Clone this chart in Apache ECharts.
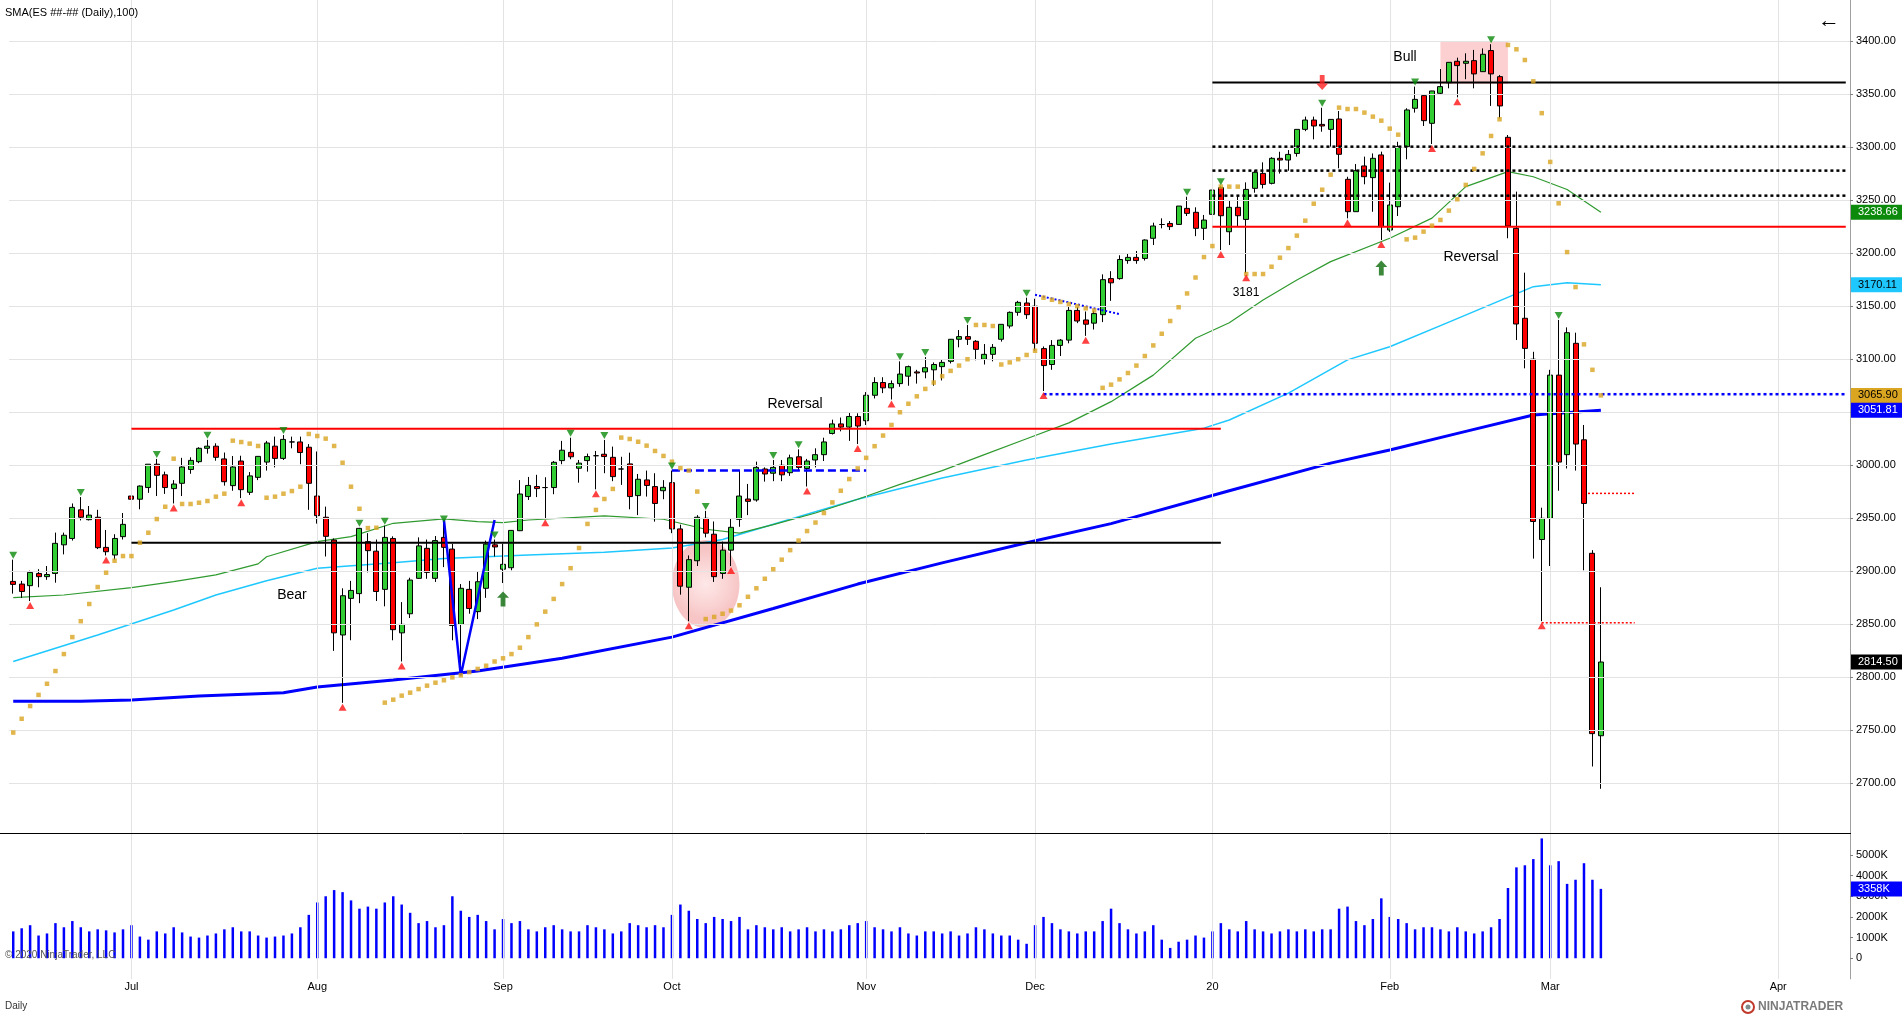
<!DOCTYPE html>
<html><head><meta charset="utf-8">
<script src="https://cdn.jsdelivr.net/npm/echarts@6/dist/echarts.min.js"></script>
<style>html,body{margin:0;padding:0;background:#fff;overflow:hidden}#c{width:1902px;height:1016px}</style>
</head><body><div id="c"></div><script>
// ---------- DATA ----------
const holidays = ['2019-07-04','2019-09-02','2019-11-28','2019-12-25','2020-01-01','2020-01-20','2020-02-17'];
const barCount = 189, slotCount = 218;
// [open, high, low, close]
const candles = [
[2890.5,2911,2879,2887.7],[2888,2891,2875,2881],[2886.5,2900.6,2872,2899],[2898,2902,2885,2895],[2895,2905,2892,2897],
[2898,2936.5,2889.3,2926.4],[2925,2936.5,2916,2934],[2931,2964,2929,2960.3],[2958,2970,2948,2951],[2948.7,2961.6,2948,2953],
[2951,2958,2921,2922.3],[2922.6,2939,2915,2918.5],[2915.4,2935,2911,2931],[2932.7,2955,2930,2944.3],
[2971,2981,2955,2968],[2968,2981,2958.5,2980.4],[2979,3001,2974,3001],[3001,3006,2971,2990.5],[2991,2994,2973,2979],
[2978,2986,2964,2982.3],[2983,3007,2971,2998.4],[2996,3007.5,2992,3004.6],[3003.4,3017,3002,3016],[3016,3024,3011,3018],
[3018,3020.7,3004.3,3007.5],[3006,3012,2980.8,2984.5],[2980.8,3008.7,2976,2998.4],[3004,3009,2969,2977],[2974.5,2993.6,2972,2990],
[2988.6,3008.4,2986,3008.4],[3003,3023,2995,3021],[3018,3027,2998,3006.5],[3006.5,3028.5,3005,3024.4],[3022,3027,3016,3022],
[3022,3027,3001,3012],[3017,3020,2958,2983],
[2971,3013,2945,2952.5],[2951,2961,2914,2933],[2929.5,2931,2825,2842],[2840,2884,2776,2877],[2874.5,2891,2835,2882],
[2879,2941,2870,2940.5],[2928,2936,2899,2919.5],[2919,2930,2872,2881],[2883,2943,2867,2932],[2931,2933,2835,2845],
[2842,2871,2815,2850],[2860,2894,2856,2891.8],[2893.4,2932,2893,2924],[2921.7,2930,2893,2899],[2893.4,2933.3,2890,2929],
[2932,2945,2904,2922.6],[2921,2926,2835,2849],[2850,2888,2802,2884],[2883,2891,2860,2865],[2862,2900,2855,2890.2],
[2884,2929,2875,2925.7],[2925,2930,2914,2923],
[2902,2926,2889,2906.6],[2903.4,2939,2901,2938.6],[2938.3,2986,2938,2972.9],[2970.5,2989,2967.3,2981],[2980,2991,2970,2978],
[2979,2988.7,2950,2979],[2979,3004,2972.7,3002.8],[3004.4,3023,3001,3014.2],[3012.2,3026,3005.7,3008],[2997.2,3005,2983.6,3002],
[3004.4,3011,2994,3008.2],[3009,3013.5,2977.3,3009],[3010.4,3023.9,2992.5,3008.2],[3007.5,3017.6,2985,2989.3],[2996.5,3008,2981.5,2996.5],
[3001.3,3011.9,2958.5,2970.5],[2971.4,2991.8,2953,2986.8],[2986.2,2995,2970.5,2981],[2979.9,2992.5,2946.9,2964],[2976,2986,2968,2979.2],
[2983.6,2995,2936,2940],[2940,2944,2878,2886],[2885,2915,2853,2911],[2910,2953,2905,2951],[2950,2957,2932,2936],
[2935,2947,2890,2895],[2898,2928,2893,2920],[2920,2950,2905,2941.5],[2949,2995,2942,2971],[2968.2,2982.4,2953,2966],
[2967.3,3003.4,2965.7,2998],[2996.5,2998,2984.6,2991.8],[2992.5,3005,2985,2998],[3000,3005,2985,2991],[2993,3010,2990,3007],
[3008,3015,2995,2998],[2997,3006,2980,3004],[3005,3016,2998,3010],[3010,3026,3004,3022],[3030,3043,3029,3039],
[3039,3045,3032,3036],[3036,3050,3023,3046],[3046,3049,3020,3037],
[3042,3069,3038,3066],[3066,3083,3063,3078],[3078,3083,3068,3073],[3073,3080,3062,3077],[3077,3098,3074,3086],
[3084,3094,3075,3093],[3088,3090,3077,3087],[3088,3102,3082,3092],[3090,3097,3075,3095],[3093,3100,3080,3097],
[3098,3119,3096,3118.8],[3118.8,3127.5,3111.2,3121.3],[3121.3,3132.3,3113.4,3118.8],[3116.9,3118,3099,3109.3],[3100,3114.3,3095,3104.6],
[3104.6,3114.3,3098,3111.2],[3118.8,3132.9,3116.6,3132.9],[3131.3,3145,3129,3144.2],[3144.2,3155,3141,3153.6],[3153,3158,3138,3142],
[3150,3157,3108,3115],[3110,3112,3070,3094],[3095,3118,3090,3113],[3113,3119,3103,3118],[3118,3150,3115,3146],
[3146,3150,3134,3136],[3137,3145,3122,3133],[3134,3146,3128,3143],[3142,3180,3135,3175],[3176,3183,3155,3172],
[3176,3198,3175,3194],[3193,3200,3190,3196],[3196,3202,3190,3193],[3195,3213,3193,3212.4],[3214,3228.7,3207.7,3225.6],
[3227,3232.8,3223.4,3227],[3228,3230.3,3221.8,3225],[3227.1,3244.4,3227,3244.4],[3242.2,3253.2,3235,3237.5],[3238.5,3243.2,3216,3223.4],
[3223.4,3236,3212.4,3231.2],
[3236.6,3261,3233.4,3259.5],[3261.7,3263,3203,3235.3],[3220.2,3249.1,3207.7,3243.2],[3243.2,3253.9,3225,3235.3],[3231.8,3266.7,3181,3260.1],
[3261.1,3278,3257,3276.2],[3275.2,3285.6,3261,3264.8],[3265.8,3290.5,3264.8,3289.4],[3289.4,3295.6,3275,3287.8],[3287.8,3297.2,3277.7,3293.1],
[3294,3316.7,3291,3316.7],[3316.7,3328.7,3315,3325.5],[3325.5,3328.7,3307.3,3319.9],[3321.4,3337.1,3314.5,3319.9],[3316.7,3326.2,3300.4,3326.1],
[3326.5,3334,3280,3293.2],[3269.6,3272,3232.8,3239.1],[3239.1,3284,3239,3277.8],[3282.2,3291,3264.9,3272.1],[3271.2,3294,3239,3289.4],
[3292.6,3295.7,3212.4,3225],
[3221.8,3266.5,3220,3245.4],[3243.8,3305,3235,3300.4],[3300.4,3336.6,3288.5,3335],[3336.6,3357,3332.5,3345],[3348.5,3349,3319.9,3324.9],
[3322.4,3353,3302.9,3352.9],[3350.7,3373.6,3350,3357],[3360.7,3380,3355.4,3379.9],[3380.9,3384.3,3346.9,3376.8],[3379,3388.4,3364,3380.9],
[3381.5,3391.6,3355.4,3369],[3371.1,3393,3371,3387.5],[3391,3397,3338.8,3369],[3366.4,3368,3327,3338.8],[3309.2,3311.4,3214,3225.6],
[3223.4,3258,3118.1,3133.2],[3138.6,3181.6,3091.4,3110.2],[3100,3107,2912,2947],[2930,2960,2853,2950],
[2950,3090,2905,3085],[3085,3137,2976,3003],[3010,3130,2997,3125],[3115,3125,2995,3020],[3024,3038,2901,2964],
[2917,2920,2716,2747],[2745,2885,2695,2814.5]
];
const volumeK = [
1300,1450,1600,1100,1200,1700,1500,1800,1500,1300,1400,1350,1250,1400,
1600,1050,900,1300,1200,1500,1250,1050,1000,1100,1200,1400,1500,1300,1300,1100,1000,1050,1100,1200,1500,2100,
2700,3000,3300,3200,2800,2400,2500,2400,2700,3000,2600,2200,1700,1800,1500,1600,3000,2300,2000,2100,1800,1400,
1900,1700,1800,1400,1300,1500,1600,1400,1300,1300,1600,1500,1400,1200,1300,1700,1600,1500,1600,1500,
2100,2600,2300,1900,1700,2000,1900,1800,2000,1400,1600,1500,1400,1500,1300,1400,1500,1300,1400,1300,1400,1600,1700,
1800,1500,1400,1300,1500,1200,1100,1300,1300,1200,1300,1100,1200,1500,1400,1200,1100,1100,900,700,
1600,2000,1700,1400,1300,1200,1300,1300,1800,2400,1700,1400,1200,1300,1600,900,500,800,900,1100,1000,
1300,1700,1400,1300,1800,1400,1300,1200,1300,1400,1300,1400,1300,1400,1400,2400,2500,1800,1600,1900,2900,
2000,1900,1700,1400,1500,1500,1400,1300,1500,1300,1200,1300,1500,1900,3400,4400,4500,4800,5800,
4500,4700,3600,3800,4600,3800,3358
];
const sar = [
2748,2761,2773,2783.5,2794,2806,2822,2838,2853,2869.2,2885.2,2898.7,2910,2914.4,2914.4,2927,2936.4,2949.3,2960.9,3006.2,
2963.5,2963.5,2964.7,2966.3,2970.4,2973.2,3023.2,3021.9,3020.4,3018.2,2969.4,2970.4,2973.2,2975.7,2979.8,3029.5,3027.6,3025.1,3018.2,3002.4,
2979.8,2959,2940.8,2941.1,2776.2,2779,2782.8,2785.6,2789,2792.2,2795,2797.3,2800,2802,2805,2808,2811,2815,2818,2822,
2828,2838,2850,2862,2874,2888,2903,2922,2944.7,2957.9,2968.2,2977.7,3026.1,3024.8,3022.2,3018.5,3013.5,3008.8,3003.4,2997.3,
2995,2975.2,2855,2857,2860,2863,2868,2876,2884,2893,2902,2911,2920,2929,2938,2946,2955,2965,2976,2987,
2997,3007,3018,3028,3038,3050,3058,3065,3072,3078,3084,3089,3094,3100,3132.3,3132.3,3131.3,3095,3097,3100,
3104,3108,3158,3156,3154,3152,3150,3148,3146,3073,3076,3081,3087,3094,3103,3113,3124,3136,3149,3162,
3177,3196.3,3206.7,3262.7,3262.7,3262.7,3180.3,3180.3,3180.3,3187.2,3195.7,3204.8,3216.5,3230.6,3246.6,3259.8,3274,3337.2,3335.9,3335.9,
3332.5,3328.7,3324.9,3317.4,3311.7,3213,3214.6,3220.3,3225.9,3231.3,3240.1,3250.8,3264.3,3279.4,3294.1,3310.5,3326.2,3396.3,3392.2,3382.1,
3362,3332,3286,3247,3201,3168,3114,3090,3065.9
];
// moving averages read at points along the lines: [barIndex, value]
const sma50 = [[0,2875.2],[6.3,2877.7],[14.2,2884.6],[18.9,2890.3],[23.7,2896.6],[28.8,2907],[30.4,2913.8],[35.9,2928],[39.8,2932.7],[45,2945.3],[50.9,2949.4],[54.8,2946.8],[58.4,2945.9],[61.1,2948.4],[69.8,2952.2],[76.5,2949.1],[82,2939.7],[86,2936],[90,2944],[95,2955],[100,2968],[105,2982],[110,2995],[115,3010],[120,3025],[125,3040],[130,3060],[135,3085],[140.4,3119.7],[144,3134.4],[148.3,3155.8],[152.3,3174.7],[155.8,3192],[163,3214],[167.7,3233],[172.4,3262.7],[176.7,3276.8],[179.5,3272],[184,3260],[188,3238.66]];
const sma100 = [[0,2815],[10,2840],[18.5,2863.6],[24,2877.7],[30.4,2891.2],[36,2903],[45,2908],[51,2912],[61,2915.4],[70,2918],[78,2922],[84,2930],[90.7,2946.8],[100,2968],[110,2988],[120,3005],[130,3020],[141,3035],[144,3042.7],[151,3068],[158.2,3099.4],[163,3111.8],[170,3135],[179.5,3168.4],[184,3172],[188,3170.11]];
const sma200 = [[0,2777.6],[8,2777.6],[14,2778.7],[22,2782.5],[32,2785.6],[36,2791],[45,2797.6],[55,2806],[65,2818],[78,2838],[90,2865],[100,2888],[110,2908],[120,2927],[130,2945],[144,2976],[156,3002],[163,3014.4],[172,3032],[179.5,3047.4],[188,3051.81]];
const swingHighs = [0,8,17,23,32,41,44,51,57,66,70,78,82,90,93,105,108,113,120,139,143,155,166,175,183];
const swingLows = [2,11,19,27,39,46,63,69,80,85,94,100,104,122,127,143,146,158,162,168,171,181];
const upArrows = [[58,2874],[162,3186]];
const downArrows = [[155,3361]];
// horizontal levels [fromBar, toBar, price]
const solidRed = [[14,143,3034.5],[142,217.45,3225]];
const solidBlack = [[14,143,2927],[142,217.45,3361]];
const dottedBlack = [[142,217.45,3300.4],[142,217.45,3277.8],[142,217.45,3254.2]];
const dottedBlue = [[122,217.45,3067]];
const dashedBlue = [[78,101,2995]];
const dottedRed = [[185.7,192,2973.5],[181,192,2851.5]];
const blueTrend = [[121,3160.8],[130.8,3142.5]];
const blueZigzag = [[50.9,2948.4],[53,2802],[56.9,2948.4]];
const pinkBox = [168.9,177.0,3359.5,3399];   // x0,x1,yLow,yHigh
const pinkEllipse = [82,2888,3.8,41.5];     // cx(bar), cy(price), rx(bars), ry(price)
const priceTicks = [2700,2750,2800,2850,2900,2950,3000,3050,3100,3150,3200,3250,3300,3350,3400];
const tickIndex = [14,36,58,78,101,121,142,163,182,209];
const tickText  = ['Jul','Aug','Sep','Oct','Nov','Dec','20','Feb','Mar','Apr'];
const lastValues = [
  {v:3238.66, bg:'#0b8a0b', fg:'#ffffff'},
  {v:3170.11, bg:'#1ec8ff', fg:'#000000'},
  {v:3065.90, bg:'#daa520', fg:'#000000'},
  {v:3051.81, bg:'#0000ff', fg:'#ffffff'},
  {v:2814.50, bg:'#000000', fg:'#ffffff'}
];
const lastVolume = 3358;

// ---------- BUILD ----------
const dates = [];
(function(){ let d = new Date(Date.UTC(2019,5,11));
  while (dates.length < barCount) { const w = d.getUTCDay(); const s = d.toISOString().slice(0,10);
    if (w !== 0 && w !== 6 && holidays.indexOf(s) < 0) dates.push(s); d.setUTCDate(d.getUTCDate()+1); } })();
const categories = dates.concat(Array.from({length: slotCount - barCount}, (_, k) => 'future-' + (k + 1)));
const tickMap = {}; tickIndex.forEach((t, k) => tickMap[t] = tickText[k]);

const FONT = 'Arial, "Liberation Sans", Helvetica, sans-serif';
const chart = echarts.init(document.getElementById('c'), null, {renderer: 'canvas'});

function seg(list, color, width, type, z) {
  return list.map(s => ({type:'line', xAxisIndex:0, yAxisIndex:0, data:[[s[0], s[2]], [s[1], s[2]]], symbol:'none', silent:true,
    lineStyle:{color, width, type}, z, animation:false, clip:false}));
}
const downTri = 'path://M0,0 L10,0 L5,9 Z';
const upTri = 'path://M5,0 L10,9 L0,9 Z';
const upArrowPath = 'path://M5,0 L10,6 L7,6 L7,14 L3,14 L3,6 L0,6 Z';
const downArrowPath = 'path://M3,0 L7,0 L7,8 L10,8 L5,14 L0,8 L3,8 Z';

const gridColor = '#e3e3e3';
const option = {
  animation:false,
  backgroundColor:'#ffffff',
  textStyle:{fontFamily:FONT},
  grid:[
    {left:9, right:52, top:0, height:836.5},
    {left:9, right:52, top:834.3, height:144.6}
  ],
  xAxis:[
    {type:'category', gridIndex:0, data:categories, boundaryGap:true, axisLine:{show:false}, axisTick:{show:false}, axisLabel:{show:false}, splitLine:{show:false}},
    {type:'category', gridIndex:1, data:categories, boundaryGap:true, axisLine:{show:false}, axisTick:{show:false},
      axisLabel:{show:true, interval:(idx) => tickMap[idx] !== undefined, formatter:(v, idx) => tickMap[idx] || '', color:'#000', fontSize:11, margin:3, fontFamily:FONT},
      splitLine:{show:false}}
  ],
  yAxis:[
    {type:'value', gridIndex:0, position:'right', min:2650, max:3438.67, interval:50,
      axisLine:{show:true, lineStyle:{color:'#a0a0a0'}}, axisTick:{show:true, length:3, lineStyle:{color:'#808080'}},
      axisLabel:{color:'#000', fontSize:11, margin:6, fontFamily:FONT, showMinLabel:false, showMaxLabel:false, formatter:v => v.toFixed(2)},
      splitLine:{show:false}},
    {type:'value', gridIndex:1, position:'right', min:-1000, max:6000, interval:1000,
      axisLine:{show:true, lineStyle:{color:'#a0a0a0'}}, axisTick:{show:true, length:3, lineStyle:{color:'#808080'}},
      axisLabel:{color:'#000', fontSize:11, margin:6, fontFamily:FONT, showMinLabel:false, showMaxLabel:false, formatter:v => v === 0 ? '0' : v + 'K'},
      splitLine:{show:false}}
  ],
  series:[]
};
const S = option.series;
// grid lines
S.push({type:'line', xAxisIndex:0, yAxisIndex:0, data:[], z:0, silent:true,
  markLine:{silent:true, symbol:'none', animation:false, label:{show:false}, lineStyle:{color:gridColor, width:1, type:'solid'},
    data: tickIndex.map(t => ({xAxis:t})).concat(priceTicks.map(p => ({yAxis:p})))}});
S.push({type:'line', xAxisIndex:1, yAxisIndex:1, data:[], z:0, silent:true,
  markLine:{silent:true, symbol:'none', animation:false, label:{show:false}, lineStyle:{color:gridColor, width:1, type:'solid'},
    data: tickIndex.map(t => ({xAxis:t}))}});
// pink areas
S.push({type:'custom', xAxisIndex:0, yAxisIndex:0, data:[0], z:1, silent:true, clip:false,
  renderItem:(params, api) => {
    const a = api.coord([pinkBox[0], pinkBox[3]]), b = api.coord([pinkBox[1], pinkBox[2]]);
    const c = api.coord([pinkEllipse[0], pinkEllipse[1]]);
    const rx = api.coord([pinkEllipse[0] + pinkEllipse[2], pinkEllipse[1]])[0] - c[0];
    const ry = api.coord([pinkEllipse[0], pinkEllipse[1] - pinkEllipse[3]])[1] - c[1];
    return {type:'group', children:[
      {type:'rect', shape:{x:a[0], y:a[1], width:b[0]-a[0], height:b[1]-a[1]}, style:{fill:'rgba(245,120,120,0.35)'}},
      {type:'ellipse', shape:{cx:c[0], cy:c[1], rx:rx, ry:ry}, style:{fill:{type:'radial', x:0.5, y:0.5, r:0.5,
        colorStops:[{offset:0, color:'rgba(250,160,160,0.25)'},{offset:1, color:'rgba(235,110,110,0.40)'}]}}}
    ]};
  }});
// moving averages
S.push({type:'line', xAxisIndex:0, yAxisIndex:0, data:sma200, symbol:'none', lineStyle:{color:'#0000ff', width:3}, z:2, silent:true, clip:false});
S.push({type:'line', xAxisIndex:0, yAxisIndex:0, data:sma100, symbol:'none', lineStyle:{color:'#1ec8ff', width:1.5}, z:2, silent:true, clip:false});
S.push({type:'line', xAxisIndex:0, yAxisIndex:0, data:sma50, symbol:'none', lineStyle:{color:'#2f9a2f', width:1.2}, z:2, silent:true, clip:false});
// candles
S.push({type:'candlestick', xAxisIndex:0, yAxisIndex:0, barWidth:5.5, clip:false, z:4,
  data:candles.map(c => [c[0], c[3], c[2], c[1]]),
  itemStyle:{color:'#32cd32', color0:'#ff0000', borderColor:'#000000', borderColor0:'#000000', borderWidth:1}});
// annotation lines
seg(solidRed, '#ff0000', 2, 'solid', 5).forEach(s => S.push(s));
seg(solidBlack, '#000000', 2, 'solid', 5).forEach(s => S.push(s));
seg(dottedBlack, '#000000', 2.5, [3,3], 5).forEach(s => S.push(s));
seg(dottedBlue, '#0000ff', 2.5, [3,3], 5).forEach(s => S.push(s));
seg(dashedBlue, '#0000ff', 2.5, [8,4], 5).forEach(s => S.push(s));
seg(dottedRed, '#ff0000', 1.5, [2,2], 5).forEach(s => S.push(s));
S.push({type:'line', xAxisIndex:0, yAxisIndex:0, data:blueTrend, symbol:'none', lineStyle:{color:'#0000ff', width:2, type:[2,2]}, z:5, silent:true});
S.push({type:'line', xAxisIndex:0, yAxisIndex:0, data:blueZigzag, symbol:'none', lineStyle:{color:'#0000ff', width:2.5}, z:5, silent:true});
// parabolic SAR
S.push({type:'scatter', xAxisIndex:0, yAxisIndex:0, data:sar.map((v, i) => [i, v]), symbol:'rect', symbolSize:4.5,
  itemStyle:{color:'#daa520'}, z:6, silent:true, clip:false});
// swing markers
S.push({type:'scatter', xAxisIndex:0, yAxisIndex:0, data:swingHighs.map(i => [i, candles[i][1]]), symbol:downTri, symbolSize:[8,7],
  symbolOffset:[0,-4.5], itemStyle:{color:'#0a8a0a'}, z:7, silent:true, clip:false});
S.push({type:'scatter', xAxisIndex:0, yAxisIndex:0, data:swingLows.map(i => [i, candles[i][2]]), symbol:upTri, symbolSize:[8,7],
  symbolOffset:[0,4.5], itemStyle:{color:'#ff1010'}, z:7, silent:true, clip:false});
S.push({type:'scatter', xAxisIndex:0, yAxisIndex:0, data:upArrows, symbol:upArrowPath, symbolSize:[12,15], itemStyle:{color:'#0a6a0a'}, z:7, silent:true});
S.push({type:'scatter', xAxisIndex:0, yAxisIndex:0, data:downArrows, symbol:downArrowPath, symbolSize:[12,15], itemStyle:{color:'#ff2020'}, z:7, silent:true});
// volume
S.push({type:'bar', xAxisIndex:1, yAxisIndex:1, data:volumeK, barWidth:2.5, itemStyle:{color:'#0000ff'}, z:3, silent:true});

chart.setOption(option);

// ---------- overlay texts / value boxes ----------
const g = [];
function txt(x, y, s, size, color, align, extra) {
  g.push(Object.assign({type:'text', x, y, silent:true, z:100,
    style:{text:s, fill:color || '#000', font:(size || 14) + 'px ' + FONT, textAlign:align || 'left', textVerticalAlign:'middle'}}, extra || {}));
}
txt(5, 13, 'SMA(ES ##-## (Daily),100)', 11, '#000');
txt(292, 595, 'Bear', 14, '#000', 'center');
txt(795, 404, 'Reversal', 14, '#000', 'center');
txt(1471, 257, 'Reversal', 14, '#000', 'center');
txt(1405, 57, 'Bull', 14, '#000', 'center');
txt(1246, 293, '3181', 12, '#000', 'center');
txt(5, 955, '\u00a9 2020 NinjaTrader, LLC', 10, '#555');
txt(5, 1006, 'Daily', 10, '#333');
txt(1829, 21, '\u2190', 22, '#000', 'center');
// separators
g.push({type:'line', shape:{x1:0, y1:833.5, x2:1851, y2:833.5}, style:{stroke:'#000', lineWidth:1}, silent:true, z:100});
// value boxes
lastValues.forEach(o => {
  const y = chart.convertToPixel({yAxisIndex:0}, o.v);
  g.push({type:'rect', shape:{x:1851, y:y-7.5, width:51, height:15}, style:{fill:o.bg}, silent:true, z:101});
  txt(1858, y, o.v.toFixed(2), 11, o.fg, 'left', {z:102});
});
const vy = chart.convertToPixel({yAxisIndex:1}, lastVolume);
g.push({type:'rect', shape:{x:1851, y:vy-7.5, width:51, height:15}, style:{fill:'#0000ff'}, silent:true, z:101});
txt(1858, vy, lastVolume + 'K', 11, '#fff', 'left', {z:102});
// NinjaTrader logo
g.push({type:'circle', shape:{cx:1748, cy:1007, r:6}, style:{fill:'none', stroke:'#c0392b', lineWidth:2}, silent:true, z:100});
g.push({type:'circle', shape:{cx:1748, cy:1007, r:2.5}, style:{fill:'#7f8c8d'}, silent:true, z:100});
txt(1758, 1007, 'NINJATRADER', 12, '#7a7a7a', 'left', {style:{text:'NINJATRADER', fill:'#7a7a7a', font:'bold 12px ' + FONT, textAlign:'left', textVerticalAlign:'middle'}});
chart.setOption({graphic:{elements:g}});
</script></body></html>
